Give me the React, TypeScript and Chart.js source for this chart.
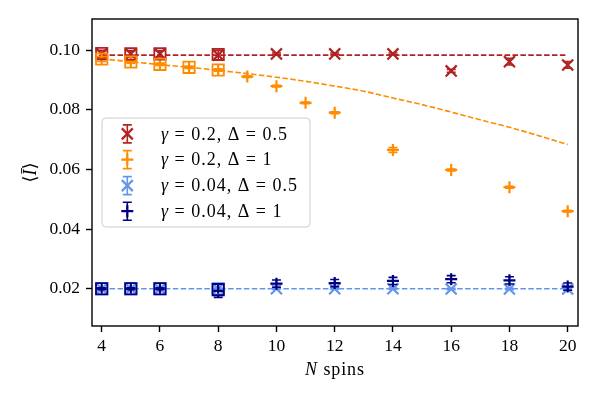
import React, { useEffect, useRef } from "react";
import { Chart, registerables } from "chart.js";

Chart.register(...registerables);

// ---------- data ----------
const N_MAIN = [4, 5, 6, 8, 10, 12, 14, 16, 18, 20];
const N_ORANGE = [4, 5, 6, 7, 8, 9, 10, 11, 12, 14, 16, 18, 20];
const N_SQUARES = [4, 5, 6, 8];
const N_SQUARES_ORANGE = [4, 5, 6, 7, 8];
const N_CURVE = [4, 5, 6, 7, 8, 9, 10, 11, 12, 13, 14, 15, 16, 17, 18, 19, 20];
const N_FLAT = [4, 20];

const RED_MC = [0.0987, 0.0987, 0.0987, 0.0983, 0.0987, 0.0987, 0.0987, 0.093, 0.0961, 0.095];
const RED_ERR = [0.0012, 0.001, 0.001, 0.0016, 0.0003, 0.0003, 0.0003, 0.0005, 0.0011, 0.0011];
const ORANGE_MC = [0.097, 0.096, 0.0952, 0.0942, 0.0933, 0.0911, 0.0879, 0.0823, 0.079, 0.0665, 0.0598, 0.054, 0.046];
const ORANGE_ERR = [0.0008, 0.0004, 0.0004, 0.0004, 0.0004, 0.0003, 0.0003, 0.0003, 0.0003, 0.0008, 0.0003, 0.0003, 0.0003];
const BLUE_MC = [0.02, 0.02, 0.02, 0.02, 0.02, 0.02, 0.02, 0.0199, 0.0199, 0.0199];
const BLUE_ERR = [0.0002, 0.0002, 0.0002, 0.0002, 0.0002, 0.0002, 0.0002, 0.0002, 0.0002, 0.0002];
const NAVY_MC = [0.02, 0.02, 0.02, 0.0193, 0.0217, 0.0219, 0.0226, 0.0232, 0.0228, 0.0207];
const NAVY_ERR = [0.0003, 0.0003, 0.0003, 0.0022, 0.0012, 0.0012, 0.0012, 0.0012, 0.0012, 0.0012];

const RED_SQ = [0.0988, 0.0987, 0.0987, 0.0985];
const ORANGE_SQ = [0.097, 0.096, 0.0952, 0.0942, 0.0933];
const BLUE_SQ = [0.02, 0.02, 0.02, 0.02];
const NAVY_SQ = [0.02, 0.02, 0.02, 0.0197];

const RED_FLAT = [0.0983, 0.0983];
const BLUE_FLAT = [0.02, 0.02];
const ORANGE_CURVE = [0.097, 0.0961, 0.0951, 0.0942, 0.0932, 0.0921, 0.0909, 0.0895, 0.0879, 0.0862, 0.0839, 0.0817, 0.0792, 0.0766, 0.0741, 0.0713, 0.0683];

const X_TICKS = [4, 6, 8, 10, 12, 14, 16, 18, 20];
const Y_TICKS = [0.02, 0.04, 0.06, 0.08, 0.1];
const X_MIN = 3.667;
const X_MAX = 20.354;
const Y_MIN = 0.0075;
const Y_MAX = 0.1104;

const LEGEND_LABELS = [
  ["γ", " = 0.2, Δ = 0.5"],
  ["γ", " = 0.2, Δ = 1"],
  ["γ", " = 0.04, Δ = 0.5"],
  ["γ", " = 0.04, Δ = 1"],
];
const X_TITLE = ["N", " spins"];
const Y_TITLE = ["⟨", "Ī", "⟩"];

const RED = "#b22222";
const ORANGE = "#ff8c00";
const BLUE = "#6495ed";
const NAVY = "#000080";
const LEGEND_COLORS = [RED, ORANGE, BLUE, NAVY];
const LEGEND_MARKERS = ["x", "+", "x", "+"];

const FAMILY = '"Liberation Serif", "DejaVu Serif", serif';
const FS = 17.5;
const FS_TEXT = 18;

const pts = (xs: number[], ys: number[]) => xs.map((x, i) => ({ x, y: ys[i] }));

function drawMarker(ctx: CanvasRenderingContext2D, kind: string, x: number, y: number, r: number) {
  ctx.beginPath();
  if (kind === "x") {
    ctx.moveTo(x - r, y - r);
    ctx.lineTo(x + r, y + r);
    ctx.moveTo(x - r, y + r);
    ctx.lineTo(x + r, y - r);
  } else {
    ctx.moveTo(x - r, y);
    ctx.lineTo(x + r, y);
    ctx.moveTo(x, y - r);
    ctx.lineTo(x, y + r);
  }
  ctx.stroke();
}

function setSpacing(ctx: any, word: number, letter: number) {
  if ("wordSpacing" in ctx) ctx.wordSpacing = `${word}px`;
  if ("letterSpacing" in ctx) ctx.letterSpacing = `${letter}px`;
}

const errorBarPlugin = {
  id: "errorBars",
  afterDatasetDraw(chart: any, args: any) {
    const ds = chart.data.datasets[args.index];
    if (!ds.errors) return;
    const ctx = chart.ctx as CanvasRenderingContext2D;
    const ys = chart.scales.y;
    ctx.save();
    ctx.strokeStyle = ds.pointBorderColor;
    ctx.lineWidth = 1.6;
    args.meta.data.forEach((el: any, i: number) => {
      const v = ds.data[i].y;
      const e = ds.errors[i];
      const y1 = ys.getPixelForValue(v - e);
      const y2 = ys.getPixelForValue(v + e);
      const x = el.x;
      ctx.beginPath();
      ctx.moveTo(x, y1);
      ctx.lineTo(x, y2);
      ctx.moveTo(x - 4.5, y1);
      ctx.lineTo(x + 4.5, y1);
      ctx.moveTo(x - 4.5, y2);
      ctx.lineTo(x + 4.5, y2);
      ctx.stroke();
    });
    ctx.restore();
  },
};

const decorPlugin = {
  id: "decor",
  afterDraw(chart: any) {
    const ctx = chart.ctx as CanvasRenderingContext2D;
    const a = chart.chartArea;
    ctx.save();
    // frame
    ctx.strokeStyle = "#000";
    ctx.lineWidth = 1.4;
    ctx.strokeRect(a.left, a.top, a.right - a.left, a.bottom - a.top);

    ctx.fillStyle = "#000";
    ctx.textBaseline = "alphabetic";
    ctx.textAlign = "left";
    const italic = `italic ${FS_TEXT}px ${FAMILY}`;
    const normal = `${FS_TEXT}px ${FAMILY}`;

    // x title
    setSpacing(ctx, 6, 0.9);
    ctx.font = italic;
    const w1 = ctx.measureText(X_TITLE[0]).width;
    ctx.font = normal;
    const w2 = ctx.measureText(X_TITLE[1]).width;
    const cx = (a.left + a.right) / 2;
    const sx = cx - (w1 + w2) / 2;
    ctx.font = italic;
    ctx.fillText(X_TITLE[0], sx, 375);
    ctx.font = normal;
    ctx.fillText(X_TITLE[1], sx + w1, 375);
    setSpacing(ctx, 0, 0);

    // y title (rotated)
    ctx.save();
    ctx.translate(36, (a.top + a.bottom) / 2);
    ctx.rotate(-Math.PI / 2);
    const fonts = [normal, italic, normal];
    const widths = Y_TITLE.map((t, i) => {
      ctx.font = fonts[i];
      return ctx.measureText(t).width;
    });
    let tx = -widths.reduce((s, w) => s + w, 0) / 2;
    Y_TITLE.forEach((t, i) => {
      ctx.font = fonts[i];
      ctx.fillText(t, tx, 0);
      tx += widths[i];
    });
    ctx.restore();

    // legend box
    const bx = 102, by = 118, bw = 208, bh = 109, rr = 4;
    ctx.beginPath();
    ctx.moveTo(bx + rr, by);
    ctx.lineTo(bx + bw - rr, by);
    ctx.arcTo(bx + bw, by, bx + bw, by + rr, rr);
    ctx.lineTo(bx + bw, by + bh - rr);
    ctx.arcTo(bx + bw, by + bh, bx + bw - rr, by + bh, rr);
    ctx.lineTo(bx + rr, by + bh);
    ctx.arcTo(bx, by + bh, bx, by + bh - rr, rr);
    ctx.lineTo(bx, by + rr);
    ctx.arcTo(bx, by, bx + rr, by, rr);
    ctx.closePath();
    ctx.fillStyle = "rgba(255,255,255,0.8)";
    ctx.fill();
    ctx.strokeStyle = "#cccccc";
    ctx.lineWidth = 1;
    ctx.stroke();

    const baselines = [139.5, 165.2, 191.2, 216.8];
    LEGEND_LABELS.forEach((lab, i) => {
      const cy = baselines[i] - 5.6;
      const gx = 127.3;
      ctx.strokeStyle = LEGEND_COLORS[i];
      ctx.lineWidth = 1.6;
      ctx.beginPath();
      ctx.moveTo(gx, cy - 9);
      ctx.lineTo(gx, cy + 9);
      ctx.moveTo(gx - 4.5, cy - 9);
      ctx.lineTo(gx + 4.5, cy - 9);
      ctx.moveTo(gx - 4.5, cy + 9);
      ctx.lineTo(gx + 4.5, cy + 9);
      ctx.stroke();
      ctx.lineWidth = 2.2;
      drawMarker(ctx, LEGEND_MARKERS[i], gx, cy, LEGEND_MARKERS[i] === "x" ? 5.5 : 6);

      ctx.fillStyle = "#000";
      ctx.font = italic;
      setSpacing(ctx, 0, 0);
      ctx.fillText(lab[0], 161, baselines[i]);
      const gw = ctx.measureText(lab[0]).width;
      ctx.font = normal;
      setSpacing(ctx, 7, 1.0);
      ctx.fillText(lab[1], 161 + gw + 1, baselines[i]);
      setSpacing(ctx, 0, 0);
    });
    ctx.restore();
  },
};

export default function App() {
  const ref = useRef<HTMLCanvasElement | null>(null);

  useEffect(() => {
    document.body.style.margin = "0";
    const canvas = ref.current;
    if (!canvas) return;

    const lineDs = (xs: number[], ys: number[], color: string) => ({
      data: pts(xs, ys),
      showLine: true,
      borderColor: color,
      borderWidth: 1.6,
      borderDash: [5.5, 2.4],
      pointRadius: 0,
      cubicInterpolationMode: "monotone",
      fill: false,
    });
    const markDs = (xs: number[], ys: number[], errs: number[] | null, color: string, style: string, r: number, bw: number) => ({
      data: pts(xs, ys),
      showLine: false,
      pointStyle: style,
      pointRadius: r,
      pointBorderColor: color,
      pointBackgroundColor: "rgba(0,0,0,0)",
      pointBorderWidth: bw,
      borderColor: color,
      errors: errs,
    });

    const datasets: any[] = [
      lineDs(N_FLAT, RED_FLAT, RED),
      lineDs(N_CURVE, ORANGE_CURVE, ORANGE),
      lineDs(N_FLAT, BLUE_FLAT, BLUE),
      markDs(N_MAIN, RED_MC, RED_ERR, RED, "crossRot", 7.8, 2.2),
      markDs(N_ORANGE, ORANGE_MC, ORANGE_ERR, ORANGE, "cross", 6, 2.2),
      markDs(N_MAIN, BLUE_MC, BLUE_ERR, BLUE, "crossRot", 7.8, 2.2),
      markDs(N_MAIN, NAVY_MC, NAVY_ERR, NAVY, "cross", 6, 2.2),
      markDs(N_SQUARES, RED_SQ, null, RED, "rect", 8, 1.8),
      markDs(N_SQUARES_ORANGE, ORANGE_SQ, null, ORANGE, "rect", 8, 1.8),
      markDs(N_SQUARES, BLUE_SQ, null, BLUE, "rect", 8, 1.8),
      markDs(N_SQUARES, NAVY_SQ, null, NAVY, "rect", 8, 1.8),
    ];
    datasets.forEach((d, i) => (d.order = -i));

    const tickFont = { family: FAMILY, size: FS };

    const chart = new Chart(canvas, {
      type: "scatter",
      data: { datasets },
      options: {
        responsive: false,
        animation: false,
        events: [],
        layout: { padding: { top: 19, right: 20, left: 0, bottom: 0 } },
        plugins: { legend: { display: false }, tooltip: { enabled: false } },
        scales: {
          x: {
            type: "linear",
            min: X_MIN,
            max: X_MAX,
            afterBuildTicks: (s: any) => {
              s.ticks = X_TICKS.map((v) => ({ value: v }));
            },
            afterFit: (s: any) => {
              s.height = 73;
            },
            ticks: { font: tickFont, color: "#000", padding: 4, maxRotation: 0, callback: (v: any) => String(v) },
            grid: { drawOnChartArea: false, drawTicks: true, tickLength: 6, tickColor: "#000", tickWidth: 1.4 },
            border: { display: false },
          },
          y: {
            type: "linear",
            min: Y_MIN,
            max: Y_MAX,
            afterBuildTicks: (s: any) => {
              s.ticks = Y_TICKS.map((v) => ({ value: v }));
            },
            afterFit: (s: any) => {
              s.width = 92;
            },
            ticks: { font: tickFont, color: "#000", padding: 6, callback: (v: any) => Number(v).toFixed(2) },
            grid: { drawOnChartArea: false, drawTicks: true, tickLength: 6, tickColor: "#000", tickWidth: 1.4 },
            border: { display: false },
          },
        },
      } as any,
      plugins: [errorBarPlugin as any, decorPlugin as any],
    });

    return () => chart.destroy();
  }, []);

  return <canvas ref={ref} width={598} height={399} style={{ display: "block" }} />;
}
